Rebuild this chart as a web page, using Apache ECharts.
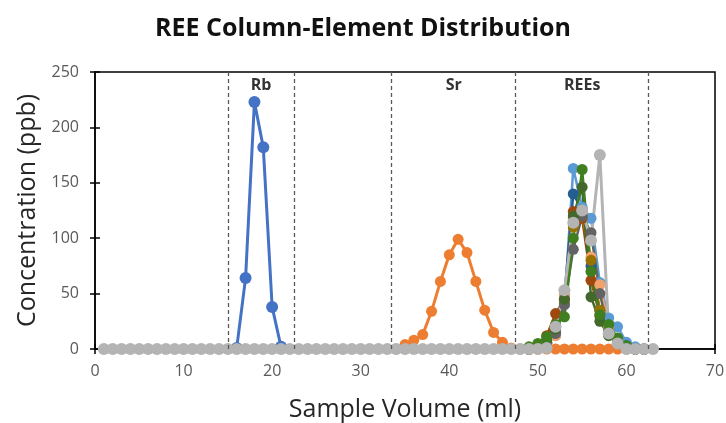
<!DOCTYPE html>
<html><head><meta charset="utf-8">
<script src="https://cdn.jsdelivr.net/npm/echarts@6/dist/echarts.min.js"></script>
<style>html,body{margin:0;padding:0;background:#fff}#c{width:726px;height:423px}</style>
</head><body><div id="c"></div>
<script>
// ---- data ----
const xTicks = [0, 10, 20, 30, 40, 50, 60, 70];
const yTicks = [0, 50, 100, 150, 200, 250];
const sections = ['Rb', 'Sr', 'REEs'];
const sectionBounds = [[15, 22.5], [33.5, 47.5], [47.5, 62.5]];
const dividers = [15, 22.5, 33.5, 47.5, 62.5];

const rbVolume = [16, 17, 18, 19, 20, 21];
const rbValues = [1, 64, 223, 182, 38, 2];

const srVolume = [34, 35, 36, 37, 38, 39, 40, 41, 42, 43, 44, 45, 46, 47, 48, 49, 50, 51, 52, 53, 54, 55, 56, 57, 58, 59, 60, 61];
const srValues = [0, 4, 8, 13, 34, 61, 85, 99, 87, 61, 35, 15, 6, 1, 0, 0, 0, 0, 0, 0, 0, 0, 0, 0, 0, 0, 0, 0];

const reeVolume = [49, 50, 51, 52, 53, 54, 55, 56, 57, 58, 59, 60, 61, 62];
const laValues = [0, 3, 6, 12, 40, 163, 128, 118, 60, 28, 20, 6, 2, 0];
const ceValues = [0, 2, 5, 14, 48, 140, 125, 75, 35, 18, 8, 3, 0, 0];
const prValues = [0, 4, 12, 32, 45, 124, 118, 62, 30, 14, 6, 2, 0, 0];
const ndValues = [0, 2, 6, 12, 48, 118, 122, 83, 58, 20, 8, 2, 0, 0];
const smValues = [0, 1, 6, 20, 42, 110, 120, 80, 35, 16, 6, 1, 0, 0];
const euValues = [0, 1, 5, 14, 40, 90, 120, 105, 50, 15, 5, 1, 0, 0];
const gdValues = [0, 3, 8, 18, 45, 120, 146, 47, 25, 12, 5, 1, 0, 0];
const tbValues = [2, 5, 11, 22, 29, 100, 162, 70, 31, 22, 10, 3, 0, 0];

const luVolume = [1, 2, 3, 4, 5, 6, 7, 8, 9, 10, 11, 12, 13, 14, 15, 16, 17, 18, 19, 20, 21, 22, 23, 24, 25, 26, 27, 28, 29, 30, 31, 32, 33, 34, 35, 36, 37, 38, 39, 40, 41, 42, 43, 44, 45, 46, 47, 48, 49, 50, 51, 52, 53, 54, 55, 56, 57, 58, 59, 60, 61, 62, 63];
const luValues = [0, 0, 0, 0, 0, 0, 0, 0, 0, 0, 0, 0, 0, 0, 0, 0, 0, 0, 0, 0, 0, 0, 0, 0, 0, 0, 0, 0, 0, 0, 0, 0, 0, 0, 0, 0, 0, 0, 0, 0, 0, 0, 0, 0, 0, 0, 0, 0, 0, 0, 1, 20, 53, 114, 125, 98, 175, 14, 5, 0, 0, 0, 0];

// ---- build ----
function pairs(xs, ys) { return xs.map((x, i) => [x, ys[i]]); }
function lineSeries(name, xs, ys, color, size, width) {
  return {
    name, type: 'line', data: pairs(xs, ys), symbol: 'circle', symbolSize: size,
    lineStyle: { color, width }, itemStyle: { color }, animation: false, z: 3
  };
}
const font = 'Open Sans, Liberation Sans, sans-serif';

const series = [
  lineSeries('Rb', rbVolume, rbValues, '#4472C4', 12, 3),
  lineSeries('Sr', srVolume, srValues, '#ED7D31', 11, 3),
  lineSeries('La', reeVolume, laValues, '#5B9BD5', 11, 2.5),
  lineSeries('Ce', reeVolume, ceValues, '#255E91', 11, 2.5),
  lineSeries('Pr', reeVolume, prValues, '#9E480E', 11, 2.5),
  lineSeries('Nd', reeVolume, ndValues, '#F4A26B', 11, 2.5),
  lineSeries('Sm', reeVolume, smValues, '#997300', 11, 2.5),
  lineSeries('Eu', reeVolume, euValues, '#636363', 11, 2.5),
  lineSeries('Gd', reeVolume, gdValues, '#43682B', 11, 2.5),
  lineSeries('Tb', reeVolume, tbValues, '#3F7F1F', 11, 2.5),
  lineSeries('Lu', luVolume, luValues, '#B4B4B4', 12, 3)
];
series.push({
  type: 'line', data: [], animation: false, z: 1,
  markLine: {
    silent: true, symbol: ['none', 'none'], animation: false,
    lineStyle: { type: [4, 3], color: '#595959', width: 1.3 },
    label: { show: false },
    data: dividers.map(v => ({ xAxis: v }))
  },
  markArea: {
    silent: true, animation: false,
    itemStyle: { color: 'rgba(0,0,0,0)' },
    label: { show: true, position: 'insideTop', distance: 5, fontFamily: font, fontWeight: 'bold', fontSize: 16, color: '#333' },
    data: sections.map((s, i) => [{ name: s, xAxis: sectionBounds[i][0] }, { xAxis: sectionBounds[i][1] }])
  }
});

const labelStyle = { fontFamily: font, fontSize: 16, color: '#595959' };
const chart = echarts.init(document.getElementById('c'), null, { renderer: 'canvas' });
chart.setOption({
  animation: false,
  title: {
    text: 'REE Column-Element Distribution', left: 'center', top: 11,
    textStyle: { fontFamily: font, fontWeight: 'bold', fontSize: 25, color: '#111' }
  },
  grid: { left: 95, right: 11, top: 72, bottom: 74, outerBoundsMode: 'none', containLabel: false, show: true, borderColor: '#000', borderWidth: 1.5, backgroundColor: 'transparent' },
  xAxis: [{
    type: 'value', min: xTicks[0], max: xTicks[xTicks.length - 1], interval: 10,
    name: 'Sample Volume (ml)', nameLocation: 'middle', nameGap: 48,
    nameTextStyle: { fontFamily: font, fontSize: 25, color: '#262626' },
    axisLine: { lineStyle: { color: '#000', width: 1.5 } },
    axisTick: { show: true, length: 5, lineStyle: { color: '#000', width: 1.5 } },
    axisLabel: Object.assign({ margin: 14 }, labelStyle),
    splitLine: { show: false }
  }, {
    type: 'value', position: 'bottom', min: 0, max: 70, interval: 10,
    axisLine: { show: false }, axisLabel: { show: false }, splitLine: { show: false },
    axisTick: { show: true, inside: true, length: 5, lineStyle: { color: '#000', width: 1.5 } }
  }],
  yAxis: [{
    type: 'value', min: yTicks[0], max: yTicks[yTicks.length - 1], interval: 50,
    name: 'Concentration (ppb)', nameLocation: 'middle', nameGap: 54,
    nameTextStyle: { fontFamily: font, fontSize: 25, color: '#262626' },
    axisLine: { show: true, lineStyle: { color: '#000', width: 1.5 } },
    axisTick: { show: true, length: 5, lineStyle: { color: '#000', width: 1.5 } },
    axisLabel: Object.assign({ margin: 16 }, labelStyle),
    splitLine: { show: false }
  }, {
    type: 'value', position: 'left', min: 0, max: 250, interval: 50,
    axisLine: { show: false }, axisLabel: { show: false }, splitLine: { show: false },
    axisTick: { show: true, inside: true, length: 5, lineStyle: { color: '#000', width: 1.5 } }
  }],
  series
});
</script></body></html>
